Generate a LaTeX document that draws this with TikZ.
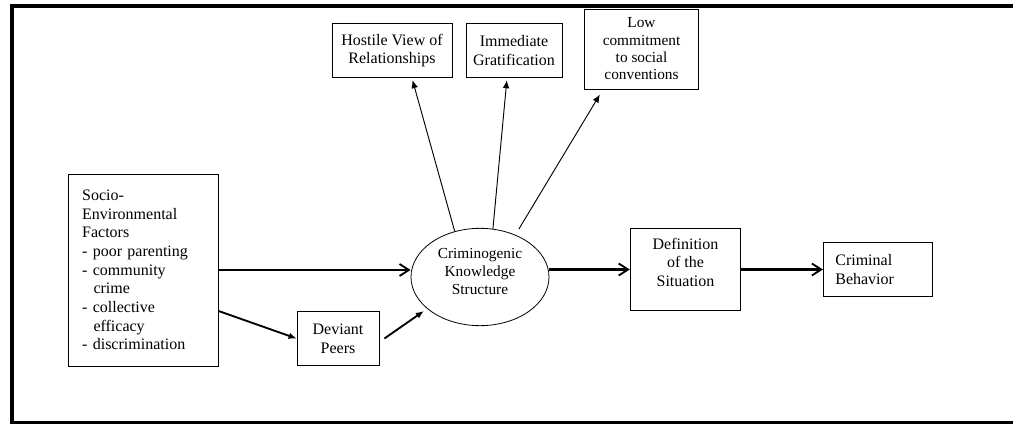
\documentclass[tikz,border=0pt]{standalone}
\usepackage{fontspec}
\setmainfont{Liberation Serif}
\usetikzlibrary{positioning,arrows.meta,shapes.geometric}

\begin{document}
\begin{tikzpicture}[x=0.75pt,y=-0.75pt,
    box/.style={draw,line width=0.6pt,font=\fontsize{12}{14}\selectfont,align=center,inner sep=0pt},
    mainarrow/.style={line width=1.6pt,-{Straight Barb[length=7pt,width=9pt,line width=1.4pt]}},
    peerarrow/.style={line width=1.4pt,-{Latex[length=6pt,width=5pt]}},
    thinarrow/.style={line width=0.7pt,-{Latex[length=6pt,width=5pt]}}]
    \clip (0,0) rectangle (1013,424);
    \useasboundingbox (0,0) rectangle (1013,424);
    \draw[line width=3pt] (11.5,6) rectangle (1060,422.5);

    \node[box,align=left,text width=92pt,inner xsep=10pt,minimum height=144pt] (soc) at (143.5,270)
        {Socio-\\Environmental\\Factors\\- poor parenting\\- community\\\hspace*{8.5pt}crime\\- collective\\\hspace*{8.5pt}efficacy\\- discrimination};
    \node[box,minimum width=61.5pt,minimum height=41pt] (dev) at (338,338.5) {Deviant\\Peers};
    \node[box,ellipse,minimum width=103.5pt,minimum height=73pt,text depth=8pt,font=\fontsize{11.5}{13.5}\selectfont] (cks) at (480,277)
        {Criminogenic\\Knowledge\\Structure};
    \node[box,minimum width=83pt,minimum height=62pt,text depth=11pt] (def) at (685.5,269.5) {Definition\\of the\\Situation};
    \node[box,align=left,text width=64pt,inner xsep=9pt,minimum height=41pt] (crim) at (878,269.5) {Criminal\\Behavior};
    \node[box,minimum width=90pt,minimum height=41pt] (hos) at (392,50.5) {Hostile View of\\Relationships};
    \node[box,minimum width=72pt,minimum height=41pt] (imm) at (514,50.5) {Immediate\\Gratification};
    \node[box,minimum width=85pt,minimum height=60pt,font=\fontsize{11.5}{13}\selectfont] (low) at (641.5,49)
        {Low\\commitment\\to social\\conventions};

    \draw[mainarrow] (soc.east) -- (soc.east -| cks.west);
    \draw[mainarrow] (def.west -| cks.east) -- (def.west);
    \draw[mainarrow] (def.east) -- (crim.west);
    \draw[peerarrow] ([yshift=-30.75pt]soc.east) -- (dev.west);
    \draw[peerarrow,shorten >=3pt] ([xshift=3.75pt]dev.east) -- (cks.211);
    \draw[thinarrow,shorten >=1.5pt] (cks.119) -- ([xshift=15pt]hos.south);
    \draw[thinarrow,shorten >=1.5pt] (cks.75) -- ([xshift=-5.25pt]imm.south);
    \draw[thinarrow,shorten <=5pt,shorten >=4.5pt] (cks.50) -- ([xshift=-28.9pt]low.south);
\end{tikzpicture}
\end{document}
